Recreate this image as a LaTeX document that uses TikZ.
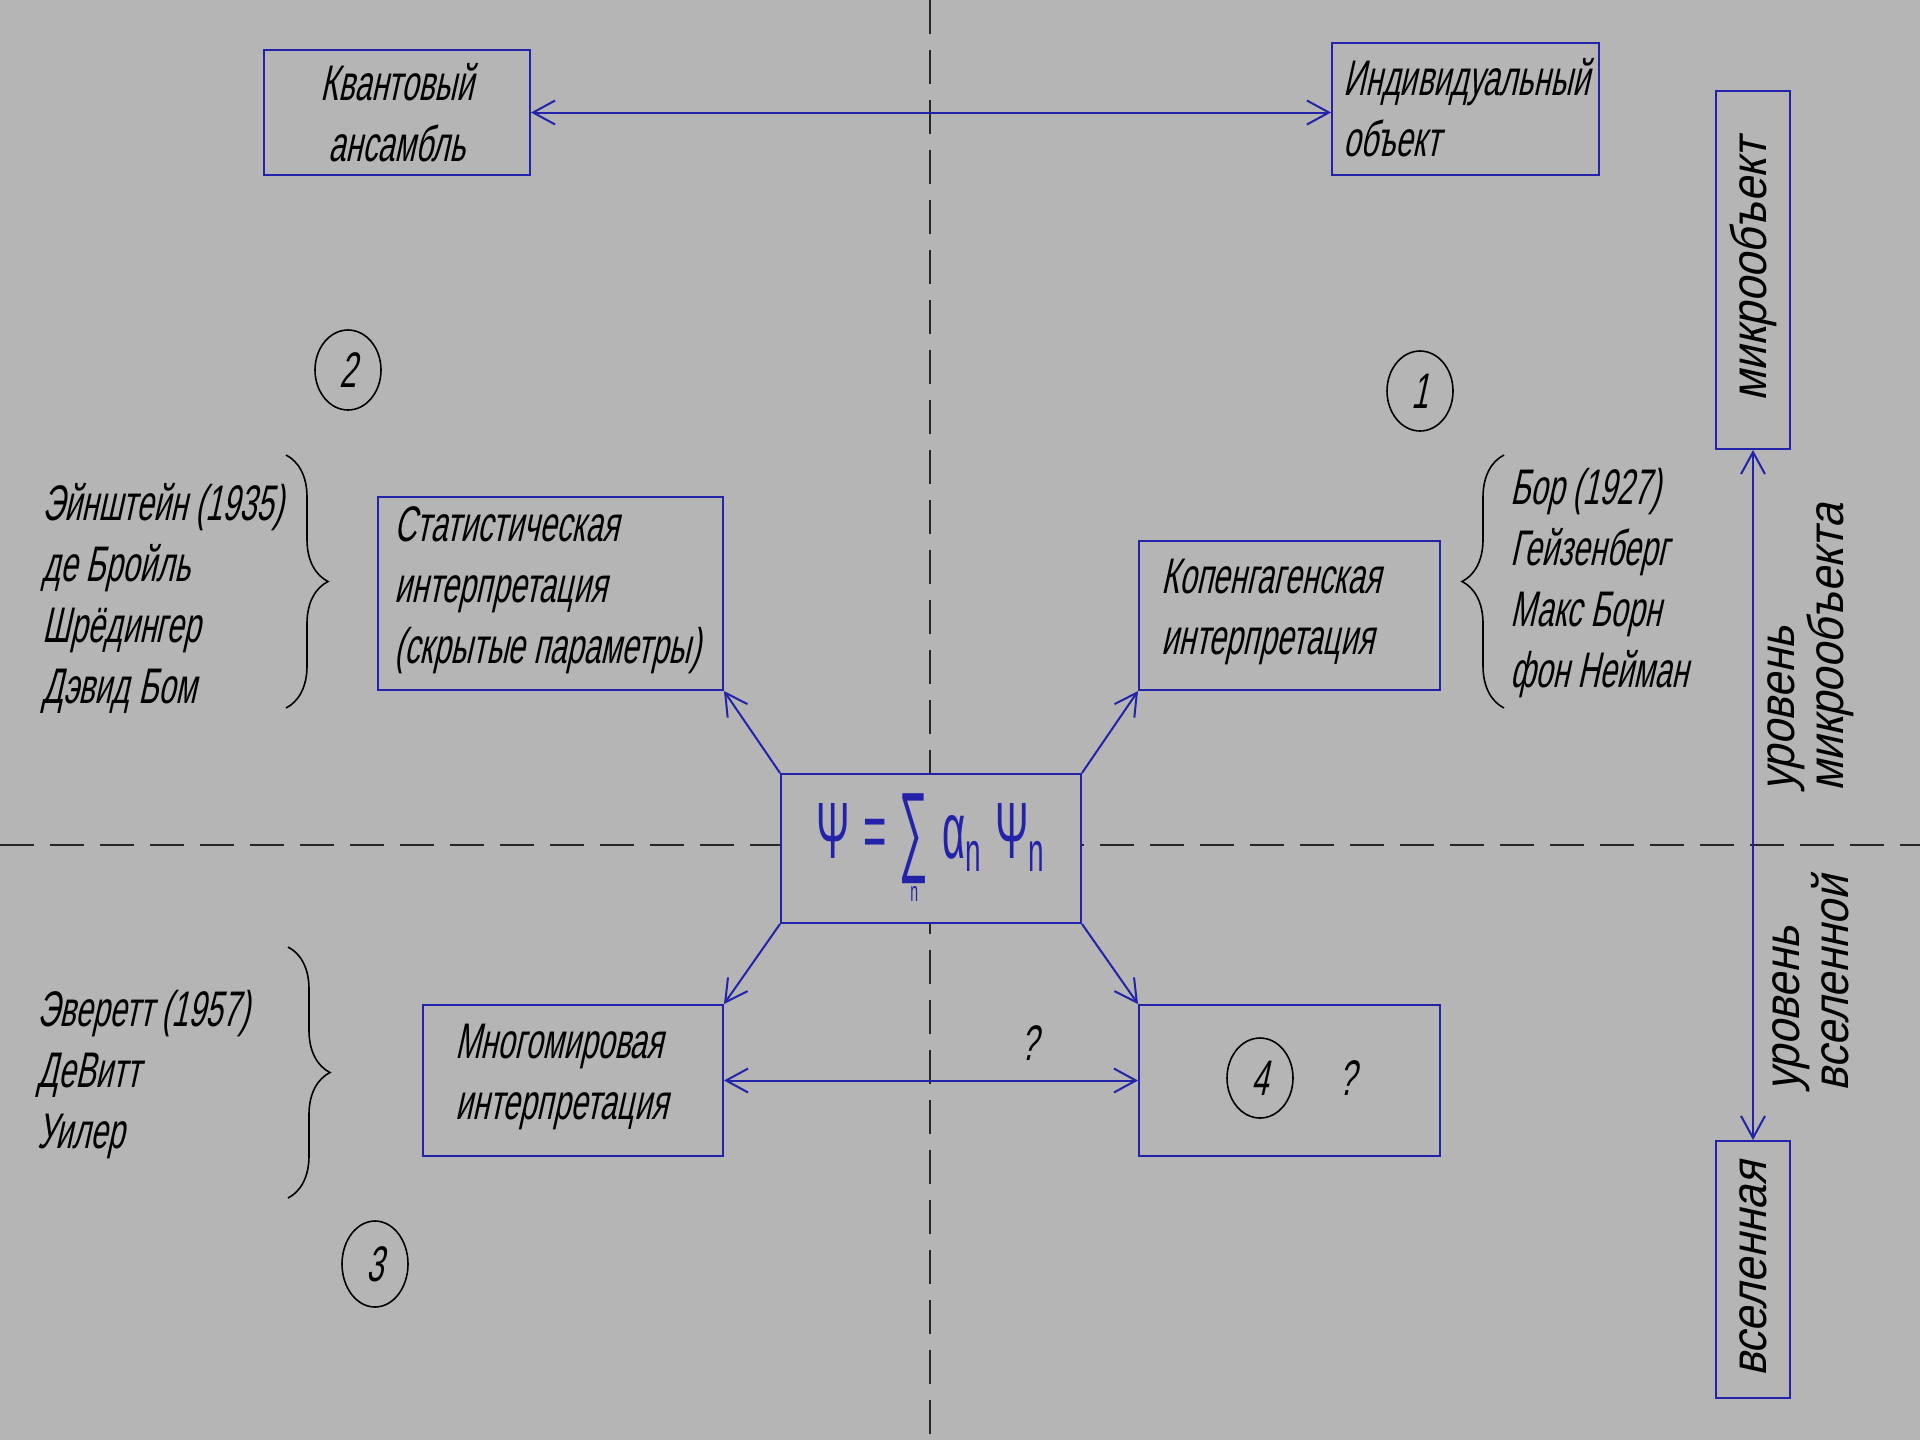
\documentclass[tikz,border=0pt]{standalone}
\usepackage{fontspec}
\usepackage{graphicx}
\newfontfamily\gost[FakeStretch=0.61,FakeSlant=0.22]{Liberation Sans}
\newfontfamily\gostwide[FakeStretch=0.88,FakeSlant=0.22]{Liberation Sans}
\newfontfamily\gostup[FakeStretch=0.5]{Liberation Sans}
\usetikzlibrary{arrows.meta,decorations.pathreplacing,shapes.geometric}
\definecolor{bg}{RGB}{181,181,181}
\definecolor{lineblue}{RGB}{35,35,170}
\tikzset{
  box/.style={draw=lineblue, line width=1pt, fill=bg, inner sep=0pt, text=black, anchor=north west},
  boxtext/.style={anchor=west, align=left, inner sep=0pt},
  twoarr/.style={draw=lineblue, line width=1pt, {Straight Barb[length=11pt,width=12pt]}-{Straight Barb[length=11pt,width=12pt]}},
  onearr/.style={draw=lineblue, line width=1pt, -{Straight Barb[length=11pt,width=12pt]}},
  axisline/.style={draw=black!85, line width=1.3pt, dash pattern=on 17pt off 8pt},
  num/.style={draw=black, line width=0.8pt, ellipse, minimum width=33pt, minimum height=40pt, inner sep=0pt},
  names/.style={align=left, anchor=west, inner sep=0pt},
  bracket/.style={draw=black, line width=0.8pt, decorate, decoration={brace, amplitude=21pt}},
  rottext/.style={rotate=90, anchor=west, align=left, inner sep=0pt, font=\gostwide\fontsize{25}{17}\selectfont},
}
\begin{document}
\begin{tikzpicture}[x=0.5pt, y=-0.5pt, font=\gost\fontsize{25}{30.5}\selectfont]
\fill[bg] (0,0) rectangle (1920,1440);
\useasboundingbox (0,0) rectangle (1920,1440);
% axes
\coordinate (vtop) at (930,0);
\coordinate (vbot) at (930,1440);
\coordinate (hl) at (0,845);
\coordinate (hr) at (1920,845);
\draw[axisline] (vtop) -- (vbot);
\draw[axisline] (hl) -- (hr);

% top boxes
\node[box, minimum width=133pt, minimum height=62.5pt, align=center] (ens) at (263,49) {Квантовый\\ансамбль};
\node[box, minimum width=133.5pt, minimum height=66pt] (ind) at (1331,42) {};
\node[boxtext] (indT) at (1343,108) {Индивидуальный\\объект};
\draw[twoarr] (ens.east) -- (ens.east -| ind.west);

% interpretation boxes
\node[box, minimum width=172.5pt, minimum height=96.5pt] (stat) at (377,496) {};
\node[boxtext] (statT) at (394,590) {Статистическая\\интерпретация\\(скрытые параметры)};
\node[box, minimum width=150.5pt, minimum height=74.5pt] (cop) at (1138,540) {};
\node[boxtext] (copT) at (1161,612) {Копенгагенская\\интерпретация};
\node[box, minimum width=150pt, minimum height=75.5pt] (many) at (422,1004) {};
\node[boxtext] (manyT) at (455,1077) {Многомировая\\интерпретация};
\node[box, minimum width=150.5pt, minimum height=75.5pt] (four) at (1138,1004) {};
\node[box, minimum width=150pt, minimum height=74.5pt, text=lineblue] (psi) at (780,773)
  {\gostup\fontsize{40}{40}\selectfont Ψ\,=\,$\mathop{\hbox{\raisebox{-2pt}{\scalebox{1}[1.25]{∑}}}}\limits_{\hbox{\gostup\fontsize{14}{14}\selectfont n}}$\hspace{7pt}α\textsubscript{n}\,Ψ\textsubscript{n}};

% arrows from formula
\draw[onearr] (psi.north west) -- (stat.south east);
\draw[onearr] (psi.north east) -- (cop.south west);
\draw[onearr] (psi.south west) -- (many.north east);
\draw[onearr] (psi.south east) -- (four.north west);
\draw[twoarr] (many.east) -- (four.west);
\node (qmid) at (1029,1043) {?};

% contents of box 4
\node[num] (c4) at (1260,1078) {4};
\node (q4) at (1347,1078) {?};

% numbered circles
\node[num] (c1) at (1420,391) {1};
\node[num] (c2) at (348,370) {2};
\node[num, minimum height=43pt] (c3) at (375,1264) {3};

% names and braces
\node[names] (einst) at (42,598) {Эйнштейн (1935)\\де Бройль\\Шрёдингер\\Дэвид Бом};
\coordinate (b1t) at (286,455); \coordinate (b1b) at (286,708);
\draw[bracket] (b1t) -- (b1b);

\node[names] (bohr) at (1510,583) {Бор (1927)\\Гейзенберг\\Макс Борн\\фон Нейман};
\coordinate (b2t) at (1504,455); \coordinate (b2b) at (1504,708);
\draw[bracket] (b2b) -- (b2t);

\node[names] (ever) at (37,1075) {Эверетт (1957)\\ДеВитт\\Уилер};
\coordinate (b3t) at (288,947); \coordinate (b3b) at (288,1198);
\draw[bracket] (b3t) -- (b3b);

% right column
\node[box, rotate=90, anchor=center, minimum width=179pt, minimum height=37pt, font=\gostwide\fontsize{25}{30}\selectfont] (micro) at (1753,270) {микрообъект};
\node[box, rotate=90, anchor=center, minimum width=128.5pt, minimum height=37pt, font=\gostwide\fontsize{25}{30}\selectfont] (univ) at (1753,1269.5) {вселенная};
\draw[twoarr] (micro.west) -- (univ.east);
\node[rottext] (lvlmicro) at (1811,792) {уровень\\микрообъекта};
\node[rottext] (lvluniv) at (1811,1092) {уровень\\вселенной};
\end{tikzpicture}
\end{document}
